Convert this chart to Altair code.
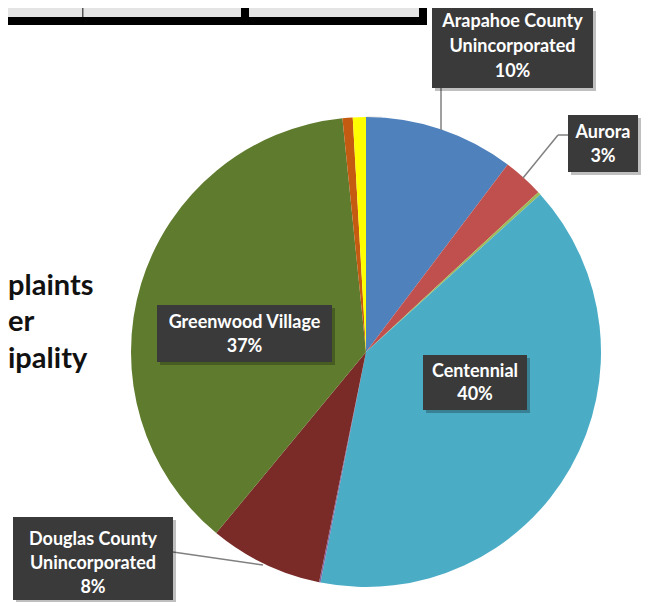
import altair as alt
import pandas as pd

# ---- data ----
NAMES = ["Arapahoe County Unincorporated", "Aurora", "Other A", "Centennial", "Other B",
         "Douglas County Unincorporated", "Greenwood Village", "Other C", "Other D"]
SHARES = [10.3, 2.8, 0.2, 39.8, 0.1, 7.8, 37.4, 0.7, 0.9]
COLORS = ["#4F81BD", "#C0504D", "#9BBB59", "#4BACC6", "#8064A2",
          "#7A2B28", "#5F7B2D", "#C55A11", "#FFFF00"]
LABELLED = ["Arapahoe County Unincorporated", "Aurora", "Greenwood Village", "Centennial",
            "Douglas County Unincorporated"]
LABEL_LINES = {
    "Arapahoe County Unincorporated": ["Arapahoe County", "Unincorporated"],
    "Aurora": ["Aurora"],
    "Greenwood Village": ["Greenwood Village"],
    "Centennial": ["Centennial"],
    "Douglas County Unincorporated": ["Douglas County", "Unincorporated"],
}
# visible (cropped) part of the side title "Complaints per Municipality"
TITLE_WORDS = ["plaints", "er", "ipality"]

# ---- layout (chart pixel coordinates) ----
W, H = 633, 594
CX, CY, R = 358, 344, 235
OFF = 8  # page margin
# label boxes in screenshot coords: x1, x2, y1, y2
BOXES = {
    "Arapahoe County Unincorporated": (432, 593, 7, 88),
    "Aurora": (568, 638, 115, 172),
    "Greenwood Village": (157, 332, 305, 362),
    "Centennial": (423, 527, 355, 410),
    "Douglas County Unincorporated": (13, 173, 517, 600),
}
LINE_Y = {
    "Arapahoe County Unincorporated": [22, 47, 72],
    "Aurora": [133, 157],
    "Greenwood Village": [323, 347],
    "Centennial": [372, 395],
    "Douglas County Unincorporated": [540, 564, 588],
}
LEADERS = [  # screenshot coords x, y, x2, y2
    (441, 88, 441, 130),
    (568, 135, 558, 135),
    (558, 135, 523, 178),
    (173, 552, 263, 565),
]
TITLE_LEFT = 8
TITLE_BASE = [295, 331, 368]

pie_df = pd.DataFrame({"name": NAMES, "share": SHARES, "idx": list(range(len(NAMES)))})

box_rows, text_rows = [], []
for n in LABELLED:
    x1, x2, y1, y2 = BOXES[n]
    box_rows.append({"x": x1 - OFF, "x2": x2 - OFF, "y": max(y1 - OFF, 0), "y2": y2 - OFF})
    pct = f"{round(SHARES[NAMES.index(n)])}%"
    lines = LABEL_LINES[n] + [pct]
    for ln, ly in zip(lines, LINE_Y[n]):
        text_rows.append({"x": (x1 + x2) / 2 - OFF, "y": ly - OFF, "text": ln})
box_df = pd.DataFrame(box_rows)
shadow_df = box_df.assign(x=box_df.x + 3, x2=box_df.x2 + 3, y=box_df.y + 3, y2=box_df.y2 + 3)
text_df = pd.DataFrame(text_rows)
lead_df = pd.DataFrame([{"x": a - OFF, "y": b - OFF, "x2": c - OFF, "y2": d - OFF} for a, b, c, d in LEADERS])
title_df = pd.DataFrame({"x": [TITLE_LEFT - OFF] * 3, "y": [v - OFF for v in TITLE_BASE],
                         "text": TITLE_WORDS})

# top table fragment (screenshot coords)
tbl_fill = pd.DataFrame([{"x": 0, "x2": 427 - OFF, "y": 0, "y2": 17 - OFF}])
tbl_black = pd.DataFrame([
    {"x": 0, "x2": 427 - OFF, "y": 17 - OFF, "y2": 25 - OFF},
    {"x": 241 - OFF, "x2": 249 - OFF, "y": 0, "y2": 25 - OFF},
    {"x": 419 - OFF, "x2": 427 - OFF, "y": 0, "y2": 25 - OFF},
])
tbl_thin = pd.DataFrame([{"x": 82 - OFF, "x2": 83.5 - OFF, "y": 0, "y2": 17 - OFF}])

def px(f):
    return alt.X(f, scale=None, axis=None)

def py(f):
    return alt.Y(f, scale=None, axis=None)

shadow = alt.Chart(pd.DataFrame({"v": [1]})).mark_arc(
    outerRadius=R + 4, color="#000000", opacity=0.08
).encode(theta=alt.Theta("v:Q"), x=alt.value(CX + 1), y=alt.value(CY + 3))

pie = alt.Chart(pie_df).mark_arc(outerRadius=R).encode(
    theta=alt.Theta("share:Q", stack=True),
    order=alt.Order("idx:Q"),
    color=alt.Color("name:N", scale=alt.Scale(domain=NAMES, range=COLORS), legend=None),
    x=alt.value(CX), y=alt.value(CY),
)

def rects(df, color, opacity=1.0):
    return alt.Chart(df).mark_rect(color=color, opacity=opacity).encode(
        x=px("x:Q"), x2="x2:Q", y=py("y:Q"), y2="y2:Q")

leaders = alt.Chart(lead_df).mark_rule(color="#808080", strokeWidth=1.5).encode(
    x=px("x:Q"), x2="x2:Q", y=py("y:Q"), y2="y2:Q")

labels = alt.Chart(text_df).mark_text(
    font="Lato", fontWeight="bold", fontSize=18, color="#FFFFFF", align="center", baseline="middle"
).encode(x=px("x:Q"), y=py("y:Q"), text="text:N")

title = alt.Chart(title_df).mark_text(
    font="Lato", fontWeight="bold", fontSize=29, color="#111111", align="left", baseline="alphabetic"
).encode(x=px("x:Q"), y=py("y:Q"), text="text:N")

chart = alt.layer(
    rects(tbl_fill, "#E4E4E4"),
    rects(tbl_thin, "#555555"),
    rects(tbl_black, "#000000"),
    shadow, pie, leaders,
    rects(shadow_df, "#000000", 0.25),
    rects(box_df, "#3A3A3A"),
    labels, title,
).properties(width=W, height=H, padding=0, autosize=alt.AutoSizeParams(type="none")
).configure_view(stroke=None)

chart.save("out.html", embed_options={"renderer": "svg", "actions": False})
